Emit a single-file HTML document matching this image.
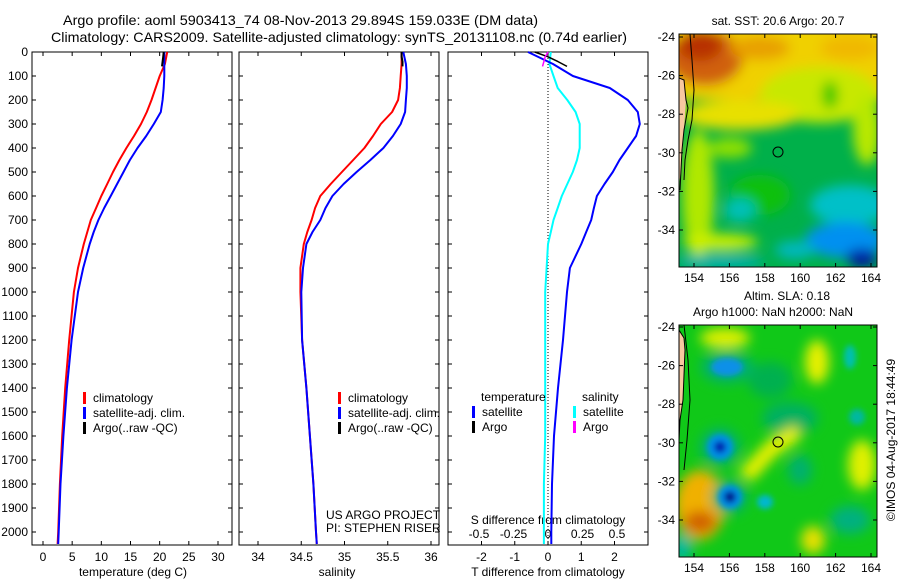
<!DOCTYPE html>
<html><head><meta charset="utf-8">
<style>
html,body{margin:0;padding:0;background:#fff;}
svg{display:block;font-family:"Liberation Sans",sans-serif;}
text{fill:#000;}
</style></head>
<body>
<svg id="chart" width="900" height="580" viewBox="0 0 900 580" xmlns="http://www.w3.org/2000/svg">
<defs>
<filter id="blur6" x="-50%" y="-50%" width="200%" height="200%"><feGaussianBlur stdDeviation="6"/></filter>
<filter id="blur3" x="-50%" y="-50%" width="200%" height="200%"><feGaussianBlur stdDeviation="3"/></filter>
<clipPath id="clipTop"><rect x="679" y="34" width="198" height="233"/></clipPath>
<clipPath id="clipBot"><rect x="679" y="325" width="198" height="232"/></clipPath>
</defs>
<text x="63" y="25" font-size="14" textLength="475" lengthAdjust="spacingAndGlyphs">Argo profile: aoml 5903413_74 08-Nov-2013 29.894S 159.033E (DM data)</text>
<text x="51" y="42" font-size="14" textLength="576" lengthAdjust="spacingAndGlyphs">Climatology: CARS2009. Satellite-adjusted climatology: synTS_20131108.nc (0.74d earlier)</text>
<g id="p1"></g>
<g id="p2"></g>
<g id="p3"></g>

<!-- Top map: SST -->
<g>
<text x="778" y="25" font-size="12" text-anchor="middle">sat. SST: 20.6 Argo: 20.7</text>
<g clip-path="url(#clipTop)">
<rect x="679" y="34" width="198" height="233" fill="#00b04a"/>
<g filter="url(#blur6)">
<rect x="660" y="20" width="240" height="80" fill="#f0d000"/>
<ellipse cx="820" cy="95" rx="60" ry="28" fill="#c8e800"/>
<ellipse cx="705" cy="58" rx="38" ry="28" fill="#d06010"/>
<ellipse cx="700" cy="45" rx="22" ry="16" fill="#b83000"/>
<ellipse cx="760" cy="48" rx="30" ry="12" fill="#e8a000"/>
<ellipse cx="850" cy="48" rx="30" ry="12" fill="#f0b800"/>
<ellipse cx="740" cy="115" rx="60" ry="15" fill="#e8e000"/>
<ellipse cx="698" cy="195" rx="16" ry="65" fill="#b0e800"/>
<ellipse cx="730" cy="148" rx="22" ry="10" fill="#90e000"/>
<ellipse cx="867" cy="130" rx="14" ry="35" fill="#b8e800"/>
<ellipse cx="830" cy="95" rx="8" ry="14" fill="#30c800"/>
<ellipse cx="760" cy="195" rx="30" ry="20" fill="#10c010"/>
<ellipse cx="740" cy="210" rx="16" ry="12" fill="#00c0b8"/>
<ellipse cx="720" cy="242" rx="38" ry="8" fill="#d0f000"/>
<ellipse cx="850" cy="205" rx="40" ry="20" fill="#00c0c8"/>
<ellipse cx="845" cy="240" rx="40" ry="18" fill="#0090f0"/>
<ellipse cx="862" cy="258" rx="16" ry="9" fill="#0010a0"/>
<ellipse cx="720" cy="262" rx="45" ry="7" fill="#00b0b0"/>
<ellipse cx="795" cy="250" rx="20" ry="9" fill="#00b8c0"/>
</g>
<path d="M679,78 L684,80 L686,100 L684,130 L681,170 L679,185 Z" fill="#f8c8a0"/>
<path d="M679,78 L684,80 L686,100 L688,108 L684,130 L682,150 L681,170 L680,190 M690,34 L692,60 L694,90 L692,120 L688,140 L685,160 L684,180" fill="none" stroke="#000" stroke-width="1"/>
</g>
<circle cx="778" cy="152" r="5" fill="none" stroke="#000"/>
<rect x="679" y="34" width="198" height="233" fill="none" stroke="#000"/>
<g id="mapTopTicks"></g>
</g>

<!-- Bottom map: SLA -->
<g>
<text x="787" y="300" font-size="12" text-anchor="middle">Altim. SLA: 0.18</text>
<text x="773" y="316" font-size="12" text-anchor="middle">Argo h1000: NaN h2000: NaN</text>
<g clip-path="url(#clipBot)">
<rect x="679" y="325" width="198" height="232" fill="#10c818"/>
<g filter="url(#blur6)">
<ellipse cx="725" cy="338" rx="25" ry="10" fill="#e0f000"/>
<ellipse cx="770" cy="380" rx="22" ry="18" fill="#00b050"/>
<ellipse cx="817" cy="362" rx="12" ry="22" fill="#e8f000"/>
<ellipse cx="790" cy="418" rx="28" ry="16" fill="#00b060"/>
<path d="M738,472 L768,440 L795,425 L802,438 L776,456 L752,482 Z" fill="#e8f000"/>
<ellipse cx="700" cy="505" rx="25" ry="35" fill="#f0b000"/>
<ellipse cx="700" cy="522" rx="16" ry="11" fill="#d06000"/>
<ellipse cx="682" cy="548" rx="10" ry="14" fill="#00b8a0"/>
<ellipse cx="862" cy="465" rx="14" ry="25" fill="#e0f000"/>
<ellipse cx="813" cy="540" rx="12" ry="14" fill="#e8e000"/>
<ellipse cx="850" cy="520" rx="20" ry="14" fill="#00b080"/>
<ellipse cx="800" cy="470" rx="12" ry="15" fill="#00b070"/>
<ellipse cx="720" cy="447" rx="20" ry="19" fill="#00b070"/>
<ellipse cx="730" cy="497" rx="18" ry="17" fill="#00b070"/>
<ellipse cx="727" cy="367" rx="26" ry="16" fill="#00b070"/>
</g>
<g filter="url(#blur3)">
<ellipse cx="727" cy="367" rx="16" ry="9" fill="#1090e8"/>
<ellipse cx="850" cy="357" rx="6" ry="12" fill="#00c0b0"/>
<ellipse cx="857" cy="417" rx="8" ry="8" fill="#00b8a0"/>
<ellipse cx="720" cy="447" rx="13" ry="13" fill="#0090e8"/>
<ellipse cx="720" cy="447" rx="6" ry="6" fill="#0020b0"/>
<ellipse cx="730" cy="497" rx="12" ry="12" fill="#0090e8"/>
<ellipse cx="730" cy="497" rx="6" ry="6" fill="#001890"/>
<ellipse cx="765" cy="502" rx="8" ry="7" fill="#00b8d0"/>
</g>
<path d="M679,330 L684,338 L685,350 L683,400 L680,420 L679,430 Z" fill="#f8c8a0"/>
<path d="M679,330 L684,338 L685,350 L683,400 L680,420 L679,440 M684,325 L688,360 L690,400 L687,440 L684,470" fill="none" stroke="#000" stroke-width="1"/>
</g>
<circle cx="778" cy="442" r="5" fill="none" stroke="#000"/>
<rect x="679" y="325" width="198" height="232" fill="none" stroke="#000"/>
<g id="mapBotTicks"></g>
</g>
<text x="0" y="0" font-size="12" text-anchor="middle" transform="translate(895,440) rotate(-90)">©IMOS 04-Aug-2017 18:44:49</text>
</svg>

<script>
// ---- data ----
const depthLevels = [0,50,100,150,200,250,300,350,400,450,500,550,600,650,700,750,800,900,1000,1200,1400,1600,1800,2000,2050];
const tempClim    = [21.3,20.9,20.0,19.3,18.6,17.8,16.8,15.6,14.3,13.1,12.0,11.0,10.0,9.1,8.2,7.6,7.0,6.0,5.3,4.5,3.8,3.3,2.9,2.6,2.5];
const tempSat     = [20.8,20.8,20.8,20.7,20.5,20.2,19.0,17.7,16.2,14.9,13.8,12.7,11.6,10.5,9.5,8.7,8.0,6.9,6.0,4.9,4.1,3.5,3.0,2.7,2.6];
const argoDepth   = [0,20,40,60];
const argoTemp    = [20.7,20.6,20.5,20.4];
const salClim     = [35.66,35.66,35.65,35.64,35.62,35.55,35.42,35.33,35.23,35.10,34.97,34.84,34.72,34.66,34.62,34.57,34.53,34.49,34.49,34.51,34.56,34.60,34.64,34.67,34.68];
const salSat      = [35.68,35.71,35.72,35.72,35.71,35.70,35.65,35.56,35.45,35.30,35.14,34.99,34.86,34.78,34.72,34.63,34.56,34.52,34.50,34.51,34.56,34.60,34.64,34.67,34.68];
const argoSal     = [35.66,35.66,35.67,35.67];
const tDiffSat    = [-0.6,0.15,0.75,1.86,2.4,2.7,2.76,2.65,2.4,2.15,1.95,1.7,1.47,1.38,1.3,1.15,1.0,0.66,0.57,0.45,0.3,0.18,0.12,0.1,0.1];
const sDiffSat    = [0.02,0.01,0.04,0.07,0.14,0.20,0.23,0.23,0.23,0.21,0.18,0.14,0.10,0.07,0.04,0.02,0.0,-0.01,-0.02,-0.02,-0.02,-0.02,-0.03,-0.03,-0.03];
const argoTDiff   = [-0.4,0.0,0.3,0.57];
const argoSDiff   = [0.0,-0.02,-0.03,-0.04];
const depthTicks  = [0,100,200,300,400,500,600,700,800,900,1000,1100,1200,1300,1400,1500,1600,1700,1800,1900,2000];
const tempTicks   = [0,5,10,15,20,25,30];
const salTicks    = [34,34.5,35,35.5,36];
const tDiffTicks  = [-2,-1,0,1,2];
const sDiffTicks  = [-0.5,-0.25,0,0.25,0.5];
const lonTicks    = [154,156,158,160,162,164];
const latTicks    = [-24,-26,-28,-30,-32,-34];

const NS='http://www.w3.org/2000/svg';
function mk(tag,attrs,parent){const e=document.createElementNS(NS,tag);for(const k in attrs)e.setAttribute(k,attrs[k]);parent.appendChild(e);return e;}
const top0=52, pxPerM=0.24, bottom=545;
const yD = d => top0 + d*pxPerM;

function frame(g,x0,x1){
  const r=mk('rect',{x:x0,y:top0,width:x1-x0,height:bottom-top0,fill:'none',stroke:'#000'},g);
  
  
  depthTicks.forEach(d=>{
    mk('line',{x1:x0,x2:x0+4,y1:yD(d),y2:yD(d),stroke:'#000'},g);
    mk('line',{x1:x1,x2:x1-4,y1:yD(d),y2:yD(d),stroke:'#000'},g);
  });
}
function xTicks(g,vals,fx,y,labelY,fmt){
  vals.forEach(v=>{
    const x=fx(v);
    mk('line',{x1:x,x2:x,y1:bottom,y2:bottom-4,stroke:'#000'},g);
    mk('line',{x1:x,x2:x,y1:top0,y2:top0+4,stroke:'#000'},g);
    const t=mk('text',{x:x,y:labelY,'font-size':12,'text-anchor':'middle'},g);
    
    
    t.textContent=fmt?fmt(v):String(v);
  });
}
function line(g,xs,ds,fx,color,w,name){
  const p=xs.map((v,i)=>(i?'L':'M')+fx(v).toFixed(1)+','+yD(ds[i]).toFixed(1)).join(' ');
  const e=mk('path',{d:p,fill:'none',stroke:color,'stroke-width':w,'stroke-linejoin':'round'},g);
  
  
}
function legend(g,x,y,items){
  items.forEach((it,i)=>{
    mk('rect',{x:x,y:y+i*15-10,width:3,height:12,fill:it[1]},g);
    const t=mk('text',{x:x+10,y:y+i*15,'font-size':12},g);
    
    
    t.textContent=it[0];
  });
}
function label(g,txt,x,y,name,anchor){
  const t=mk('text',{x:x,y:y,'font-size':12,'text-anchor':anchor||'middle'},g);
  
  
  t.textContent=txt;
}

// Panel 1
const g1=document.getElementById('p1');
const fT=v=>43+v*5.833;
frame(g1,32,232);
depthTicks.forEach(d=>label(g1,String(d),28,yD(d)+4,'y-tick-label','end'));
xTicks(g1,tempTicks,fT,bottom,561);
label(g1,'temperature (deg C)',133,576,'x-axis-title');
line(g1,tempClim,depthLevels,fT,'#ff0000',2,'temp-climatology-line');
line(g1,tempSat,depthLevels,fT,'#0000ff',2,'temp-satellite-line');
line(g1,argoTemp,argoDepth,fT,'#000000',2,'temp-argo-line');
legend(g1,83,402,[['climatology','#ff0000'],['satellite-adj. clim.','#0000ff'],['Argo(..raw -QC)','#000']]);

// Panel 2
const g2=document.getElementById('p2');
const fS=v=>258+(v-34)*86.5;
frame(g2,239,439);
xTicks(g2,salTicks,fS,bottom,561);
label(g2,'salinity',337,576,'x-axis-title');
line(g2,salClim,depthLevels,fS,'#ff0000',2,'sal-climatology-line');
line(g2,salSat,depthLevels,fS,'#0000ff',2,'sal-satellite-line');
line(g2,argoSal,argoDepth,fS,'#000000',2,'sal-argo-line');
legend(g2,338,402,[['climatology','#ff0000'],['satellite-adj. clim.','#0000ff'],['Argo(..raw -QC)','#000']]);
label(g2,'US ARGO PROJECT',326,519,'credit-project','start');
label(g2,'PI: STEPHEN RISER',326,532,'credit-pi','start');

// Panel 3
const g3=document.getElementById('p3');
const fTD=v=>548+v*33.25;
const fSD=v=>548+v*138;
frame(g3,448,648);
xTicks(g3,tDiffTicks,fTD,bottom,561);
sDiffTicks.forEach(v=>label(g3,String(v),fSD(v),538,'s-tick-label'));
label(g3,'S difference from climatology',548,524,'s-axis-title');
label(g3,'T difference from climatology',548,576,'x-axis-title');
mk('line',{x1:548,x2:548,y1:top0,y2:bottom,stroke:'#000','stroke-dasharray':'1,2'},g3);
line(g3,sDiffSat,depthLevels,fSD,'#00ffff',2,'s-diff-satellite-line');
line(g3,tDiffSat,depthLevels,fTD,'#0000ff',2,'t-diff-satellite-line');
line(g3,argoTDiff,argoDepth,fTD,'#000000',1.5,'t-diff-argo-line');
line(g3,argoSDiff,argoDepth,fSD,'#ff00ff',1.5,'s-diff-argo-line');
label(g3,'temperature',481,401,'legend-heading','start');
label(g3,'salinity',582,401,'legend-heading','start');
legend(g3,472,416,[['satellite','#0000ff'],['Argo','#000']]);
legend(g3,573,416,[['satellite','#00ffff'],['Argo','#ff00ff']]);

// map ticks
function mapTicks(id,x0,x1,yTop,yBot,lat24y){
  const g=document.getElementById(id);
  const fx=v=>694+(v-154)*17.7;
  const fy=v=>lat24y+(-24-v)*19.3;
  lonTicks.forEach(v=>{
    mk('line',{x1:fx(v),x2:fx(v),y1:yBot,y2:yBot-4,stroke:'#000'},g);
    mk('line',{x1:fx(v),x2:fx(v),y1:yTop,y2:yTop+4,stroke:'#000'},g);
    label(g,String(v),fx(v),yBot+15,'lon-tick-label');
  });
  latTicks.forEach(v=>{
    mk('line',{x1:x0,x2:x0+4,y1:fy(v),y2:fy(v),stroke:'#000'},g);
    mk('line',{x1:x1,x2:x1-4,y1:fy(v),y2:fy(v),stroke:'#000'},g);
    label(g,String(v),675,fy(v)+4,'lat-tick-label','end');
  });
}
mapTicks('mapTopTicks',679,877,34,267,37);
mapTicks('mapBotTicks',679,877,325,557,327);
</script>
</body></html>
